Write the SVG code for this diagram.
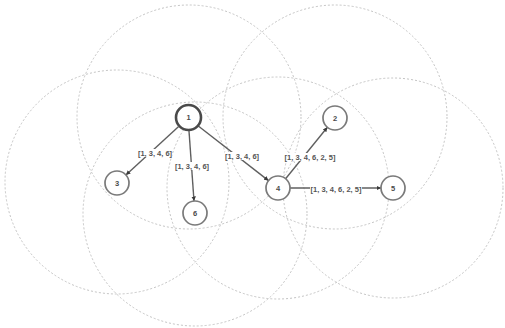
<svg xmlns="http://www.w3.org/2000/svg" width="505" height="328" viewBox="0 0 505 328">
<style>
.range{fill:none;stroke:#c4c4c4;stroke-width:1;stroke-dasharray:2 2}
.node{fill:#fff;stroke:#7a7a7a;stroke-width:1.7}
.src{fill:#fff;stroke:#4a4a4a;stroke-width:2.6}
.nl{font-family:"Liberation Sans",Arial,sans-serif;font-size:7.5px;font-weight:bold;fill:#4a4a4a;text-anchor:middle;dominant-baseline:central}
.edge{stroke:#5f5f5f;stroke-width:1.4;fill:none;marker-end:url(#arr)}
.el{font-family:"Liberation Sans",Arial,sans-serif;font-size:7.5px;font-weight:bold;fill:#555;text-anchor:middle;dominant-baseline:central}
.lb{fill:#fff}
</style>
<defs>
<marker id="arr" viewBox="0 0 10 10" refX="10" refY="5" markerWidth="4.5" markerHeight="4.5" orient="auto" markerUnits="userSpaceOnUse">
<path d="M0,0 L10,5 L0,10 z" fill="#3a3a3a"/>
</marker>
</defs>
<rect width="505" height="328" fill="#fff"/>
<g id="ranges">
<circle class="range" cx="189" cy="117" r="112"/>
<circle class="range" cx="117" cy="182" r="112"/>
<circle class="range" cx="195" cy="214" r="112"/>
<circle class="range" cx="278" cy="188" r="111"/>
<circle class="range" cx="335" cy="117" r="112"/>
<circle class="range" cx="393" cy="188" r="110"/>
</g>
<g id="connectors">
<line class="edge" x1="178.4" y1="126.8" x2="125.9" y2="174.9"/>
<line class="edge" x1="189" y1="131" x2="194" y2="201"/>
<line class="edge" x1="198.3" y1="126" x2="268.5" y2="180.6"/>
<line class="edge" x1="285.6" y1="178.7" x2="327.4" y2="127.3"/>
<line class="edge" x1="290" y1="188" x2="381" y2="188"/>
<rect class="lb" x="138" y="149" width="34" height="8"/>
<text class="el" x="155" y="153">[1, 3, 4, 6]</text>
<rect class="lb" x="175" y="162" width="34" height="8"/>
<text class="el" x="192" y="166">[1, 3, 4, 6]</text>
<rect class="lb" x="225" y="152" width="34" height="8"/>
<text class="el" x="242" y="156">[1, 3, 4, 6]</text>
<rect class="lb" x="284" y="153" width="52" height="8"/>
<text class="el" x="310" y="157">[1, 3, 4, 6, 2, 5]</text>
<rect class="lb" x="310" y="185" width="52" height="8"/>
<text class="el" x="336" y="189">[1, 3, 4, 6, 2, 5]</text>
</g>
<g id="node1"><circle class="src" cx="188.5" cy="117.5" r="12.5"/><text class="nl" x="188.5" y="117.5">1</text></g>
<g id="node2"><circle class="node" cx="335" cy="118" r="12"/><text class="nl" x="335" y="118">2</text></g>
<g id="node3"><circle class="node" cx="117" cy="183" r="12"/><text class="nl" x="117" y="183">3</text></g>
<g id="node4"><circle class="node" cx="278" cy="188" r="12"/><text class="nl" x="278" y="188">4</text></g>
<g id="node5"><circle class="node" cx="393" cy="188" r="12"/><text class="nl" x="393" y="188">5</text></g>
<g id="node6"><circle class="node" cx="195" cy="213" r="12"/><text class="nl" x="195" y="213">6</text></g>
</svg>
